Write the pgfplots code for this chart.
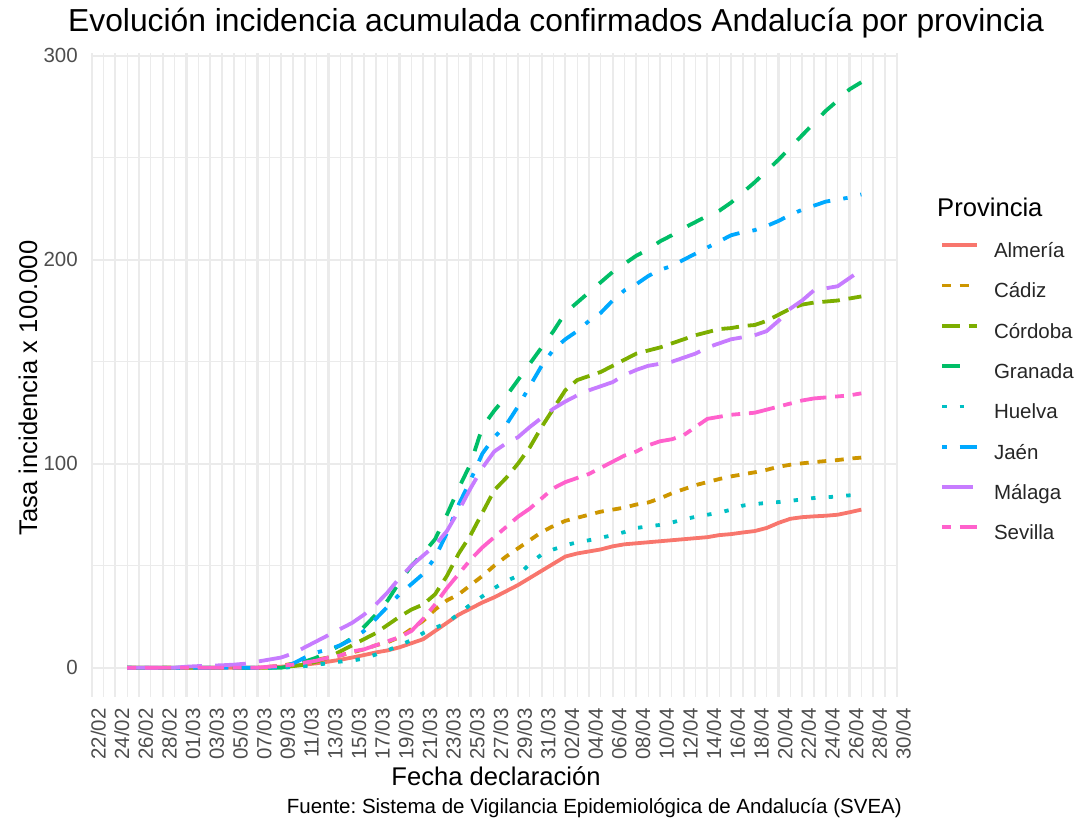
\documentclass[border=0pt]{standalone}
\usepackage{fontspec}
\setmainfont{Liberation Sans}
\usepackage{pgfplots}
\pgfplotsset{compat=1.18}
\usepackage{pgfplotstable}
\frenchspacing

\definecolor{cAlm}{HTML}{F8766D}
\definecolor{cCad}{HTML}{CD9600}
\definecolor{cCor}{HTML}{7CAE00}
\definecolor{cGra}{HTML}{00BE67}
\definecolor{cHue}{HTML}{00BFC4}
\definecolor{cJae}{HTML}{00A9FF}
\definecolor{cMal}{HTML}{C77CFF}
\definecolor{cSev}{HTML}{FF61CC}
\definecolor{grid92}{HTML}{EBEBEB}
\definecolor{grey30}{HTML}{4D4D4D}

% day 0 = 22/02/2020
\pgfplotstableread{
d v
3 0
4 0
5 0
6 0
7 0
8 0
9 0
10 0
11 0
12 0
13 0
14 0
15 0.3
16 0.5
17 1
18 1.5
19 2.2
20 3
21 3.9
22 5
23 6.2
24 7.5
25 8.5
26 10
27 12
28 14
29 18
30 22
31 26
32 29
33 32
34 34.5
35 37.5
36 40.5
37 44
38 47.5
39 51
40 54.5
41 56
42 57
43 58
44 59.5
45 60.5
46 61
47 61.5
48 62
49 62.5
50 63
51 63.5
52 64
53 65
54 65.5
55 66.3
56 67
57 68.5
58 71
59 73
60 73.8
61 74.2
62 74.5
63 75
64 76.2
65 77.5
}\almeria

\pgfplotstableread{
d v
3 0
4 0
5 0
6 0
7 0
8 0
9 0
10 0
11 0
12 0
13 0
14 0
15 0.5
16 1
17 2
18 3
19 4
20 5
21 6
22 7.5
23 9
24 11
25 12.5
26 15
27 19
28 23
29 28.5
30 33
31 36
32 40.5
33 45
34 50
35 54.5
36 58.5
37 62.5
38 66.5
39 69.5
40 72
41 73.5
42 75
43 76.5
44 77.5
45 78.5
46 80
47 81
48 83
49 85.5
50 87.5
51 89.5
52 91
53 92.5
54 93.8
55 94.8
56 95.8
57 97
58 98.5
59 99.5
60 100.2
61 100.8
62 101.3
63 101.8
64 102.5
65 103
}\cadiz

\pgfplotstableread{
d v
3 0
4 0
5 0
6 0
7 0
8 0
9 0
10 0
11 0
12 0
13 0
14 0
15 0
16 0.3
17 0.8
18 1.5
19 3
20 5
21 8
22 11
23 14
24 17
25 21
26 25
27 28.5
28 31
29 36
30 45
31 56
32 65
33 76
34 87
35 93
36 100
37 108
38 118
39 127
40 136
41 141
42 143
43 145
44 148
45 151
46 154
47 155.5
48 157
49 159
50 161
51 163
52 164.5
53 166
54 166.5
55 167.5
56 168
57 170
58 173
59 176
60 178
61 179
62 179.5
63 180
64 181
65 182
}\cordoba

\pgfplotstableread{
d v
3 0
4 0
5 0
6 0
7 0
8 0
9 0
10 0
11 0
12 0
13 0
14 0
15 0
16 0
17 1
18 3
19 5
20 8
21 11
22 14.5
23 20
24 26
25 33
26 42
27 50
28 56
29 63
30 75
31 88
32 100
33 118
34 126
35 133
36 141
37 149
38 157
39 165
40 174
41 179
42 184
43 189
44 194
45 198
46 202
47 205
48 209
49 212
50 215.5
51 218.5
52 221.5
53 224
54 228
55 233
56 238
57 243.5
58 249
59 255
60 261
61 267
62 273
63 278
64 283.5
65 287
}\granada

\pgfplotstableread{
d v
3 0
4 0
5 0
6 0
7 0
8 0
9 0
10 0
11 0
12 0
13 0
14 0
15 0
16 0
17 0.3
18 0.8
19 1.5
20 2.2
21 3
22 3.5
23 4.5
24 6.5
25 8.5
26 11
27 13.5
28 17
29 19.5
30 22
31 26.5
32 31
33 35
34 39
35 42.5
36 45
37 51
38 55.5
39 58
40 60
41 61.5
42 62.5
43 63.7
44 65
45 66.5
46 68.5
47 69.3
48 70
49 71.2
50 72.7
51 74
52 75
53 76
54 77.5
55 79.5
56 80.2
57 80.8
58 81.2
59 81.8
60 82.5
61 83.2
62 83.5
63 84
64 84.5
65 85
}\huelva

\pgfplotstableread{
d v
3 0
4 0
5 0
6 0
7 0
8 0
9 0
10 0
11 0
12 0
13 0
14 0
15 0
16 0.5
17 2
18 5
19 7.5
20 9
21 11
22 14
23 18
24 24
25 30
26 36
27 41
28 46
29 54
30 66
31 80
32 92
33 105
34 113
35 119
36 128
37 138
38 148
39 156
40 161
41 165
42 170
43 174
44 180
45 185
46 188
47 192
48 195
49 197
50 200
51 203
52 206
53 209
54 212
55 213.5
56 214.5
57 216.5
58 219
59 222
60 224.5
61 226.5
62 228.5
63 229.5
64 230.5
65 232
}\jaen

\pgfplotstableread{
d v
3 0
4 0
5 0
6 0
7 0
8 0.5
9 0.8
10 1
11 1.2
12 1.5
13 2
14 3
15 4
16 5
17 7
18 10
19 13
20 16
21 19
22 22
23 26
24 31
25 37
26 44
27 50
28 55
29 60
30 67
31 77
32 88
33 98
34 106
35 110
36 113
37 118
38 122.5
39 127
40 130.5
41 133.5
42 136
43 138
44 140
45 143.5
46 146
47 148
48 149
49 150
50 152
51 154
52 157
53 159
54 161
55 162
56 163
57 165
58 170
59 176
60 180
61 185
62 186
63 187
64 191
65 195
}\malaga

\pgfplotstableread{
d v
3 0
4 0
5 0
6 0
7 0
8 0
9 0
10 0
11 0
12 0
13 0
14 0
15 0.5
16 1
17 1.5
18 2.5
19 3.5
20 5
21 6
22 8
23 9
24 11
25 13
26 15
27 18
28 24
29 31
30 39
31 46
32 53
33 59
34 64
35 69
36 74
37 78
38 83
39 88
40 91
41 93
42 95
43 98
44 101
45 104
46 106
47 109
48 111
49 112
50 114
51 118
52 122
53 123
54 124
55 124.5
56 125
57 126.5
58 128
59 129.5
60 131
61 132
62 132.5
63 133
64 133.5
65 134.5
}\sevilla

\begin{document}
\begin{tikzpicture}[x=1bp,y=1bp]
\useasboundingbox (0,0) rectangle (1076,829);
\begin{axis}[
  at={(90.5bp,132bp)}, anchor=south west,
  width=807.5bp, height=644bp, scale only axis,
  xmin=-0.1, xmax=68.1, ymin=-14.35, ymax=301.35,
  axis line style={draw=none},
  major tick length=0pt, minor tick length=0pt,
  tick style={draw=none},
  xtick={0,2,...,68},
  minor xtick={1,3,...,67},
  ytick={0,100,200,300},
  minor ytick={50,150,250},
  grid=both,
  major grid style={draw=grid92, line width=2.2bp},
  minor grid style={draw=grid92, line width=1.2bp},
  xticklabels={22/02,24/02,26/02,28/02,01/03,03/03,05/03,07/03,09/03,11/03,13/03,15/03,17/03,19/03,21/03,23/03,25/03,27/03,29/03,31/03,02/04,04/04,06/04,08/04,10/04,12/04,14/04,16/04,18/04,20/04,22/04,24/04,26/04,28/04,30/04},
  /pgf/number format/assume math mode=true,
  every tick label/.append style={font=\fontsize{20.5bp}{24bp}\selectfont, text=grey30, inner sep=0pt},
  xticklabel style={xshift=6.5bp, rotate=90, anchor=east},
  xticklabel shift=11bp,
  yticklabel style={anchor=east},
  yticklabel shift=12.5bp,
  legend cell align=left,
  legend style={at={(1.052,0.706)}, anchor=north west, draw=none, fill=none,
    inner sep=0pt, row sep=20.9bp, column sep=15bp,
    font=\fontsize{20.5bp}{24bp}\selectfont, text=black!85,
    nodes={inner sep=0pt, text height=15bp, text depth=4.4bp}},
  legend image code/.code={\draw[#1] (0bp,7bp) -- (35bp,7bp);},
  every axis plot/.append style={line width=3.8bp, line cap=butt, line join=round},
]
\addplot[cAlm, solid] table[x=d,y=v] {\almeria};
\addlegendentry{Almería}
\addplot[cCad, dash pattern=on 8.8bp off 8.8bp] table[x=d,y=v] {\cadiz};
\addlegendentry{Cádiz}
\addplot[cCor, dash pattern=on 17.6bp off 8.8bp] table[x=d,y=v] {\cordoba};
\addlegendentry{Córdoba}
\addplot[cGra, dash pattern=on 17.6bp off 17.6bp] table[x=d,y=v] {\granada};
\addlegendentry{Granada}
\addplot[cHue, dash pattern=on 4.4bp off 13.2bp] table[x=d,y=v] {\huelva};
\addlegendentry{Huelva}
\addplot[cJae, dash pattern=on 4.4bp off 13.2bp on 17.6bp off 13.2bp] table[x=d,y=v] {\jaen};
\addlegendentry{Jaén}
\addplot[cMal, dash pattern=on 30.8bp off 13.2bp] table[x=d,y=v] {\malaga};
\addlegendentry{Málaga}
\addplot[cSev, dash pattern=on 8.8bp off 8.8bp on 26.4bp off 8.8bp] table[x=d,y=v] {\sevilla};
\addlegendentry{Sevilla}
\end{axis}
\node[anchor=base west, inner sep=0pt, font=\fontsize{31.8bp}{36bp}\selectfont] at (68,797) {Evolución incidencia acumulada confirmados Andalucía por provincia};
\node[anchor=center, inner sep=0pt, font=\fontsize{25.6bp}{30bp}\selectfont] at (496,53) {Fecha declaración};
\node[anchor=center, inner sep=0pt, rotate=90, font=\fontsize{25.6bp}{30bp}\selectfont] at (28,441) {Tasa incidencia x 100.000};
\node[anchor=east, inner sep=0pt, font=\fontsize{20.5bp}{24bp}\selectfont] at (902,21) {Fuente: Sistema de Vigilancia Epidemiológica de Andalucía (SVEA)};
\node[anchor=base west, inner sep=0pt, font=\fontsize{25.6bp}{30bp}\selectfont] at (937,612) {Provincia};
\end{tikzpicture}
\end{document}
